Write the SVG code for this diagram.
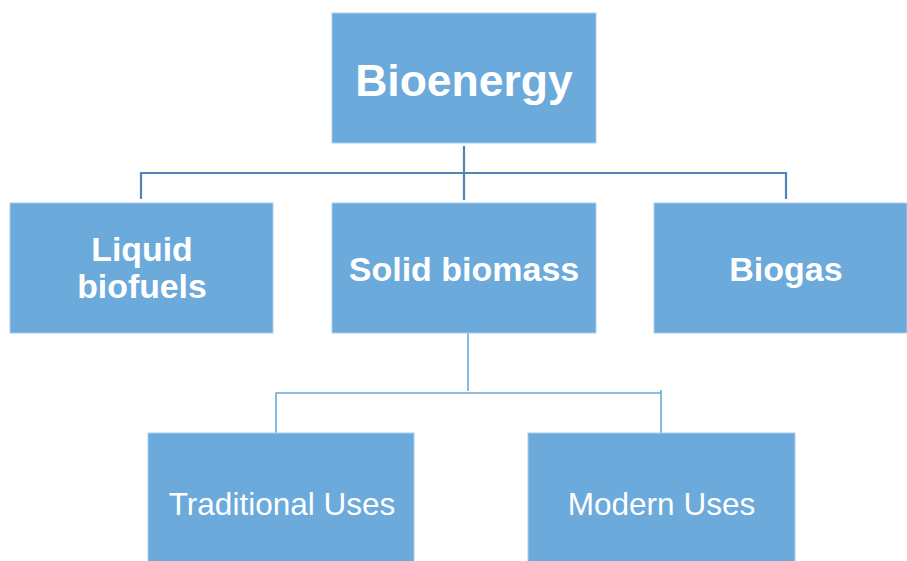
<svg xmlns="http://www.w3.org/2000/svg" width="907" height="561" viewBox="0 0 907 561">
  <style>
    .box { fill: #6BAADB; stroke: #A9CDEB; stroke-width: 1; }
    .bold { font-family: "Liberation Sans", Arial, sans-serif; font-weight: bold; fill: #FFFFFF; text-anchor: middle; }
    .plain { font-family: "Liberation Sans", Arial, sans-serif; fill: #FFFFFF; text-anchor: middle; font-size: 31.5px; }
    .link-top { fill: none; stroke: #4F86B6; stroke-width: 2.2; }
    .link-low { fill: none; stroke: #6BA8D8; stroke-width: 1.6; }
  </style>
  <rect width="907" height="561" fill="#FFFFFF"/>

  <g id="connectors">
    <path class="link-top" d="M464 146 V200 M141 199 V173 H786 V199"/>
    <path class="link-low" d="M468 333 V391 M276 433 V393 H661 M661 390 V433"/>
  </g>

  <g id="bioenergy">
    <rect class="box" x="332" y="13" width="264" height="130"/>
    <text class="bold" x="464" y="96" font-size="44.5">Bioenergy</text>
  </g>

  <g id="liquid-biofuels">
    <rect class="box" x="10" y="203" width="263" height="130"/>
    <text class="bold" x="142" y="261" font-size="33.8">Liquid</text>
    <text class="bold" x="142" y="298" font-size="33.8">biofuels</text>
  </g>

  <g id="solid-biomass">
    <rect class="box" x="332" y="203" width="264" height="130"/>
    <text class="bold" x="464" y="281" font-size="34">Solid biomass</text>
  </g>

  <g id="biogas">
    <rect class="box" x="654" y="203" width="253" height="130"/>
    <text class="bold" x="786" y="281" font-size="34">Biogas</text>
  </g>

  <g id="traditional-uses">
    <rect class="box" x="148" y="433" width="266" height="130"/>
    <text class="plain" x="282" y="515">Traditional Uses</text>
  </g>

  <g id="modern-uses">
    <rect class="box" x="528" y="433" width="267" height="130"/>
    <text class="plain" x="661.5" y="515">Modern Uses</text>
  </g>
</svg>
